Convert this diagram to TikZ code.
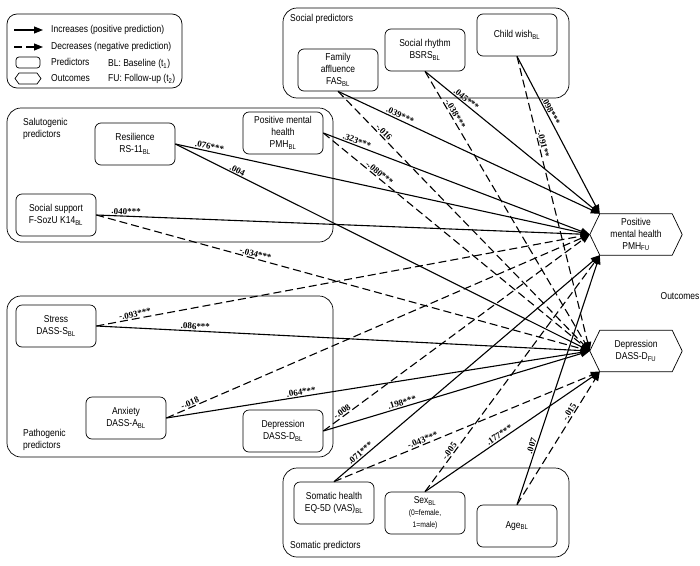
\documentclass[tikz,border=0pt]{standalone}
\usepackage{fontspec}
\setmainfont[FakeStretch=0.85]{Liberation Sans}
\newfontfamily\coeffont{Liberation Serif}
\usetikzlibrary{arrows.meta}
\newcommand{\BL}{\textsubscript{BL}}
\newcommand{\FU}{\textsubscript{FU}}

\begin{document}
\begin{tikzpicture}[x=1pt, y=-1pt, >={Triangle[length=9pt,width=7pt]},
    pred/.style={draw, rounded corners=6pt, line width=0.7pt, minimum width=80pt, minimum height=42pt,
      align=center, inner sep=1pt, font=\fontsize{10}{12}\selectfont},
    outc/.style={minimum width=72pt, minimum height=41pt, align=center, inner sep=1pt,
      font=\fontsize{10}{12}\selectfont},
    grp/.style={draw, rounded corners=14pt, line width=0.7pt},
    grplabel/.style={anchor=west, align=left, inner sep=0pt, font=\fontsize{10}{12}\selectfont},
    posarr/.style={->, line width=1.1pt},
    negarr/.style={->, line width=1.1pt, dash pattern=on 8pt off 4pt},
    coef/.style={sloped, above, inner sep=1pt, font=\coeffont\bfseries\fontsize{9}{10}\selectfont}]
    \useasboundingbox (0,0) rectangle (700,565);

    % Legenda
    \draw[grp, rounded corners=10pt] (7,14) rectangle (182,88);
    \coordinate (lgA) at (14,30);   \coordinate (lgB) at (43,30);
    \coordinate (lgC) at (14,47);   \coordinate (lgD) at (43,47);
    \draw[posarr] (lgA) -- (lgB);
    \draw[negarr] (lgC) -- (lgD);
    \draw[line width=0.7pt, rounded corners=3pt] (16,57) rectangle (40,68);
    \draw[line width=0.7pt] (19,73) -- (37,73) -- (41,78.5) -- (37,84) -- (19,84) -- (15,78.5) -- cycle;
    \node[grplabel] (lgpos) at (51,30) {Increases (positive prediction)};
    \node[grplabel] (lgneg) at (51,47) {Decreases (negative prediction)};
    \node[grplabel] (lgpred) at (51,62) {Predictors};
    \node[grplabel] (lgout) at (51,78) {Outcomes};
    \node[grplabel] (lgbl) at (108,64) {BL: Baseline (t\textsubscript{1})};
    \node[grplabel] (lgfu) at (108,79) {FU: Follow-up (t\textsubscript{2})};

    % Gruppi
    \draw[grp] (283,8) rectangle (569,98);
    \draw[grp] (7,108) rectangle (333,242);
    \draw[grp] (7,296) rectangle (333,457);
    \draw[grp] (283,468) rectangle (569,557);
    \node[grplabel] (lsoc) at (290,19) {Social predictors};
    \node[grplabel] (lsal) at (23,129) {Salutogenic\\predictors};
    \node[grplabel] (lpat) at (23,440) {Pathogenic\\predictors};
    \node[grplabel] (lsom) at (290,546) {Somatic predictors};

    % Predittori
    \node[pred] (fas) at (338,70) {Family\\affluence\\FAS\BL};
    \node[pred] (bsrs) at (425,50) {Social rhythm\\BSRS\BL};
    \node[pred] (child) at (517,35) {Child wish\BL};
    \node[pred] (res) at (135,144) {Resilience\\RS-11\BL};
    \node[pred] (pmhbl) at (283,133) {Positive mental\\health\\PMH\BL};
    \node[pred] (ss) at (56,215) {Social support\\F-SozU K14\BL};
    \node[pred] (stress) at (56,326) {Stress\\DASS-S\BL};
    \node[pred] (anx) at (126,418) {Anxiety\\DASS-A\BL};
    \node[pred] (depbl) at (283,431) {Depression\\DASS-D\BL};
    \node[pred] (som) at (334,503) {Somatic health\\EQ-5D (VAS)\BL};
    \node[pred] (sex) at (425,513) {Sex\BL\\{\fontsize{8}{12}\selectfont(0=female,}\\{\fontsize{8}{12}\selectfont 1=male)}};
    \node[pred] (age) at (517,526) {Age\BL};

    % Esiti
    \node[outc] (pmhfu) at (636,234.5) {Positive\\mental health\\PMH\FU};
    \node[outc] (depfu) at (636,351) {Depression\\DASS-D\FU};
    \coordinate (pmhtip) at ([xshift=-10pt]pmhfu.west);
    \coordinate (deptip) at ([xshift=-10pt]depfu.west);
    \draw[line width=0.7pt] (pmhfu.north west) -- (pmhfu.north east) -- ([xshift=10pt]pmhfu.east)
      -- (pmhfu.south east) -- (pmhfu.south west) -- (pmhtip) -- cycle;
    \draw[line width=0.7pt] (depfu.north west) -- (depfu.north east) -- ([xshift=10pt]depfu.east)
      -- (depfu.south east) -- (depfu.south west) -- (deptip) -- cycle;
    \node[grplabel, anchor=center] (lout) at (680,296) {Outcomes};

    % Sociali
    \draw[posarr] (fas.south) -- node[coef, pos=.23] {.039***} (pmhfu.north west);
    \draw[negarr] (fas.south) -- node[coef, pos=.17] {-.016} (deptip);
    \draw[posarr] (bsrs.south) -- node[coef, pos=.22] {.045***} (pmhfu.north west);
    \draw[negarr] (bsrs.south) -- node[coef, pos=.16] {-.038***} (deptip);
    \draw[posarr] (child.south) -- node[coef, pos=.36] {.098***} (pmhfu.north west);
    \draw[negarr] (child.south) -- node[coef, pos=.30] {-.091**} (deptip);

    % Salutogenici
    \draw[posarr] (res.east) -- node[coef, pos=.08] {.076***} (pmhtip);
    \draw[posarr] (res.east) -- node[coef, pos=.145] {.004} (deptip);
    \draw[posarr] (ss.east) -- node[coef, pos=.06] {.040***} (pmhtip);
    \draw[negarr] (ss.east) -- node[coef, pos=.32] {-.034***} (deptip);
    \draw[posarr] (pmhbl.east) -- node[coef, pos=.12] {.323***} (pmhtip);
    \draw[negarr] (pmhbl.east) -- node[coef, pos=.2] {-.080***} (deptip);

    % Patogenici
    \draw[negarr] (stress.east) -- node[coef, pos=.08] {-.093***} (pmhtip);
    \draw[posarr] (stress.east) -- node[coef, pos=.2] {.086***} (deptip);
    \draw[negarr] (anx.east) -- node[coef, pos=.06] {-.018} (pmhtip);
    \draw[posarr] (anx.east) -- node[coef, pos=.32] {.064***} (deptip);
    \draw[negarr] (depbl.east) -- node[coef, pos=.08] {-.008} (pmhtip);
    \draw[posarr] (depbl.east) -- node[coef, pos=.3] {.198***} (deptip);

    % Somatici
    \draw[posarr] (som.north) -- node[coef, pos=.11] {.071***} (pmhfu.south west);
    \draw[negarr] (som.north) -- node[coef, pos=.34] {-.043***} (depfu.south west);
    \draw[negarr] (sex.north) -- node[coef, pos=.16] {-.005} (pmhfu.south west);
    \draw[posarr] (sex.north) -- node[coef, pos=.44] {.177***} (depfu.south west);
    \draw[posarr] (age.north) -- node[coef, pos=.23] {.007} (pmhfu.south west);
    \draw[negarr] (age.north) -- node[coef, pos=.68] {-.015} (depfu.south west);
\end{tikzpicture}
\end{document}
